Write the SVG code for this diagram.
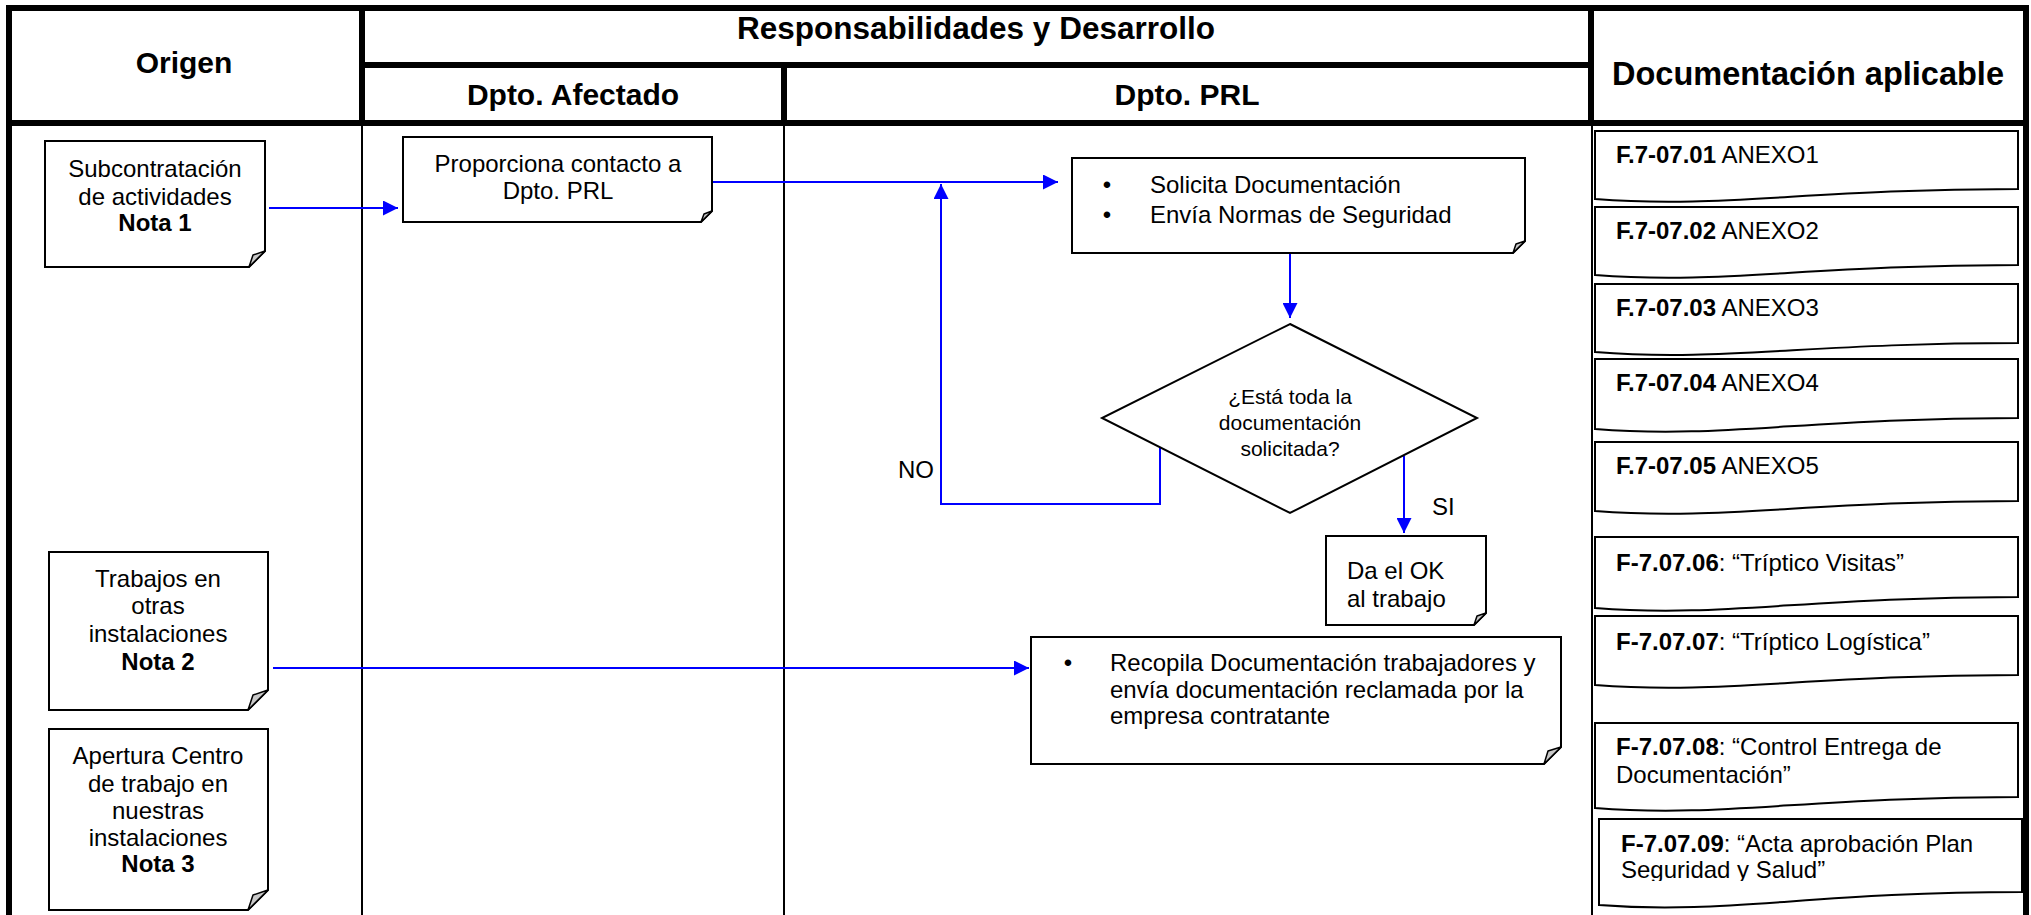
<svg xmlns="http://www.w3.org/2000/svg" width="2031" height="915" viewBox="0 0 2031 915">
  <style>
    .grid-thick { stroke: #000; stroke-width: 6; fill: none; }
    .grid-thin { stroke: #000; stroke-width: 2; fill: none; }
    .hdr { font-family: "Liberation Sans", Arial, sans-serif; font-weight: bold; font-size: 30px; fill: #000; text-anchor: middle; }
    .txt { font-family: "Liberation Sans", Arial, sans-serif; font-size: 24px; fill: #000; }
    .mid { text-anchor: middle; }
    .b { font-weight: bold; }
    .dia { font-family: "Liberation Sans", Arial, sans-serif; font-size: 21px; fill: #000; text-anchor: middle; }
    .note { fill: #fff; stroke: #000; stroke-width: 2; }
    .fold { fill: #c8c8c8; stroke: #000; stroke-width: 1.5; stroke-linejoin: round; }
    .doc { fill: #fff; stroke: #000; stroke-width: 2; }
    .flow { stroke: #0000ff; stroke-width: 2; fill: none; marker-end: url(#arrow); }
  </style>
  <defs>
    <marker id="arrow" markerUnits="userSpaceOnUse" markerWidth="15" markerHeight="15" refX="15" refY="7.5" orient="auto">
      <path d="M0,0 L15,7.5 L0,15 Z" fill="#0000ff"/>
    </marker>
    <clipPath id="clip-doc9">
      <rect x="1599" y="819" width="423" height="62"/>
    </clipPath>
  </defs>

  <rect width="2031" height="915" fill="#fff"/>

  <!-- table grid -->
  <g id="table">
    <line class="grid-thin" x1="362" y1="124" x2="362" y2="915"/>
    <line class="grid-thin" x1="784" y1="124" x2="784" y2="915"/>
    <line class="grid-thin" x1="1592" y1="124" x2="1592" y2="915"/>
    <line class="grid-thick" x1="6" y1="8" x2="2029" y2="8"/>
    <line class="grid-thick" x1="9" y1="5" x2="9" y2="915"/>
    <line class="grid-thick" x1="2026" y1="5" x2="2026" y2="915"/>
    <line class="grid-thick" x1="6" y1="123" x2="2029" y2="123"/>
    <line class="grid-thick" x1="362" y1="8" x2="362" y2="126"/>
    <line class="grid-thick" x1="1591" y1="8" x2="1591" y2="126"/>
    <line class="grid-thick" x1="362" y1="65" x2="1591" y2="65"/>
    <line class="grid-thick" x1="784" y1="65" x2="784" y2="126"/>
    <text class="hdr" x="184" y="73">Origen</text>
    <text class="hdr" x="976" y="39" style="font-size:31.5px">Responsabilidades y Desarrollo</text>
    <text class="hdr" x="573" y="105">Dpto. Afectado</text>
    <text class="hdr" x="1187" y="105">Dpto. PRL</text>
    <text class="hdr" x="1808" y="85" style="font-size:32.5px">Documentación aplicable</text>
  </g>

  <!-- connectors -->
  <g id="connectors">
    <path class="flow" d="M269,208 H398"/>
    <path class="flow" d="M712,182 H1058"/>
    <path class="flow" d="M1290,253 V318"/>
    <path class="flow" d="M1160,446 V504 H941 V184"/>
    <path class="flow" d="M1404,456 V533"/>
    <path class="flow" d="M273,668 H1029"/>
    <text class="txt" x="898" y="478">NO</text>
    <text class="txt" x="1432" y="515">SI</text>
  </g>

  <!-- origin notes -->
  <g id="n-subcontratacion">
    <path class="note" d="M45,141 H265 V251 L249,267 H45 Z"/>
    <path class="fold" d="M265,251 L249,267 L253,255 Z"/>
    <text class="txt mid" x="155" y="177">Subcontratación</text>
    <text class="txt mid" x="155" y="205">de actividades</text>
    <text class="txt mid b" x="155" y="231">Nota 1</text>
  </g>

  <g id="n-trabajos">
    <path class="note" d="M49,552 H268 V690 L248,710 H49 Z"/>
    <path class="fold" d="M268,690 L248,710 L253,695 Z"/>
    <text class="txt mid" x="158" y="587">Trabajos en</text>
    <text class="txt mid" x="158" y="614">otras</text>
    <text class="txt mid" x="158" y="642">instalaciones</text>
    <text class="txt mid b" x="158" y="670">Nota 2</text>
  </g>

  <g id="n-apertura">
    <path class="note" d="M49,729 H268 V890 L248,910 H49 Z"/>
    <path class="fold" d="M268,890 L248,910 L253,895 Z"/>
    <text class="txt mid" x="158" y="764">Apertura Centro</text>
    <text class="txt mid" x="158" y="792">de trabajo en</text>
    <text class="txt mid" x="158" y="819">nuestras</text>
    <text class="txt mid" x="158" y="846">instalaciones</text>
    <text class="txt mid b" x="158" y="872">Nota 3</text>
  </g>

  <!-- process steps -->
  <g id="n-proporciona">
    <path class="note" d="M403,137 H712 V211 L701,222 H403 Z"/>
    <path class="fold" d="M712,211 L701,222 L704,214 Z"/>
    <text class="txt mid" x="558" y="172">Proporciona contacto a</text>
    <text class="txt mid" x="558" y="199">Dpto. PRL</text>
  </g>

  <g id="n-solicita">
    <path class="note" d="M1072,158 H1525 V241 L1513,253 H1072 Z"/>
    <path class="fold" d="M1525,241 L1513,253 L1516,244 Z"/>
    <text class="txt mid" x="1107" y="193">•</text>
    <text class="txt" x="1150" y="193">Solicita Documentación</text>
    <text class="txt mid" x="1107" y="223">•</text>
    <text class="txt" x="1150" y="223">Envía Normas de Seguridad</text>
  </g>

  <g id="n-decision">
    <path class="note" d="M1290,324 L1477,418 L1290,513 L1102,418 Z"/>
    <text class="dia" x="1290" y="404">¿Está toda la</text>
    <text class="dia" x="1290" y="430">documentación</text>
    <text class="dia" x="1290" y="456">solicitada?</text>
  </g>

  <g id="n-ok">
    <path class="note" d="M1326,536 H1486 V613 L1474,625 H1326 Z"/>
    <path class="fold" d="M1486,613 L1474,625 L1477,616 Z"/>
    <text class="txt" x="1347" y="579">Da el OK</text>
    <text class="txt" x="1347" y="607">al trabajo</text>
  </g>

  <g id="n-recopila">
    <path class="note" d="M1031,637 H1561 V747 L1544,764 H1031 Z"/>
    <path class="fold" d="M1561,747 L1544,764 L1548,751 Z"/>
    <text class="txt mid" x="1068" y="671">•</text>
    <text class="txt" x="1110" y="671">Recopila Documentación trabajadores y</text>
    <text class="txt" x="1110" y="698">envía documentación reclamada por la</text>
    <text class="txt" x="1110" y="724">empresa contratante</text>
  </g>

  <!-- applicable documents -->
  <g id="d-anexo1">
    <path class="doc" d="M1595,131 H2018 V189 C1807,189 1722,209 1595,199 Z"/>
    <text class="txt" x="1616" y="163"><tspan class="b">F.7-07.01</tspan> ANEXO1</text>
  </g>
  <g id="d-anexo2">
    <path class="doc" d="M1595,207 H2018 V265 C1807,265 1722,285 1595,275 Z"/>
    <text class="txt" x="1616" y="239"><tspan class="b">F.7-07.02</tspan> ANEXO2</text>
  </g>
  <g id="d-anexo3">
    <path class="doc" d="M1595,284 H2018 V343 C1807,343 1722,362 1595,352 Z"/>
    <text class="txt" x="1616" y="316"><tspan class="b">F.7-07.03</tspan> ANEXO3</text>
  </g>
  <g id="d-anexo4">
    <path class="doc" d="M1595,359 H2018 V418 C1807,418 1722,439 1595,429 Z"/>
    <text class="txt" x="1616" y="391"><tspan class="b">F.7-07.04</tspan> ANEXO4</text>
  </g>
  <g id="d-anexo5">
    <path class="doc" d="M1595,442 H2018 V501 C1807,501 1722,521 1595,511 Z"/>
    <text class="txt" x="1616" y="474"><tspan class="b">F.7-07.05</tspan> ANEXO5</text>
  </g>
  <g id="d-visitas">
    <path class="doc" d="M1595,537 H2018 V597 C1807,597 1722,618 1595,608 Z"/>
    <text class="txt" x="1616" y="571"><tspan class="b">F-7.07.06</tspan>: “Tríptico Visitas”</text>
  </g>
  <g id="d-logistica">
    <path class="doc" d="M1595,616 H2018 V675 C1807,675 1722,695 1595,685 Z"/>
    <text class="txt" x="1616" y="650"><tspan class="b">F-7.07.07</tspan>: “Tríptico Logística”</text>
  </g>
  <g id="d-control">
    <path class="doc" d="M1595,723 H2018 V797 C1807,797 1722,818 1595,808 Z"/>
    <text class="txt" x="1616" y="755"><tspan class="b">F-7.07.08</tspan>: “Control Entrega de</text>
    <text class="txt" x="1616" y="783">Documentación”</text>
  </g>
  <g id="d-acta">
    <path class="doc" d="M1599,819 H2022 V892 C1811,892 1726,915 1599,905 Z"/>
    <g clip-path="url(#clip-doc9)">
      <text class="txt" x="1621" y="852"><tspan class="b">F-7.07.09</tspan>: “Acta aprobación Plan</text>
      <text class="txt" x="1621" y="878">Seguridad y Salud”</text>
    </g>
  </g>
</svg>
